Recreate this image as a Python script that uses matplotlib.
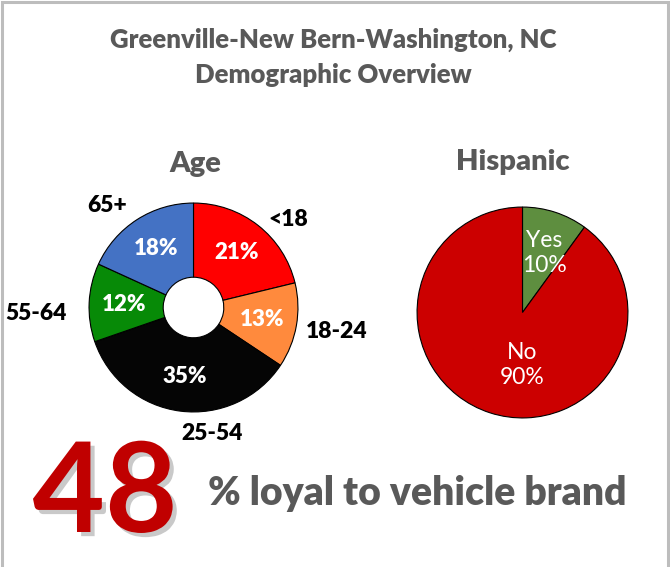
import matplotlib
matplotlib.use("Agg")
import matplotlib.pyplot as plt
import matplotlib.patheffects as pe
from matplotlib.patches import Rectangle
import numpy as np

#-----------Datos--------------------------------
titulo = ["Greenville-New Bern-Washington, NC", "Demographic Overview"]

edad_grupos = ["<18", "18-24", "25-54", "55-64", "65+"]
edad_valores = [21, 13, 35, 12, 18]
edad_colores = ["#FF0000", "#FF8A3D", "#050505", "#078A07", "#4472C4"]

hisp_grupos = ["Yes", "No"]
hisp_valores = [10, 90]
hisp_colores = ["#5E8E3F", "#CC0000"]

leales = 48
leales_texto = "% loyal to vehicle brand"

#-----------Figura--------------------------------
W, H = 670, 567
plt.rcParams['font.family'] = ['Lato', 'DejaVu Sans']
fig = plt.figure(figsize=(W / 100, H / 100), dpi=100)
gris = "#595959"
peso = "heavy"


def fx(x):
    return x / W


def fy(y):
    return 1 - y / H


def eje_circulo(cx, cy, r):
    ax = fig.add_axes([fx(cx - r), fy(cy + r), 2 * r / W, 2 * r / H])
    return ax


# marco gris
fig.patches.append(Rectangle((fx(1.5), fy(575)), (W - 4) / W, 573.5 / H,
                             transform=fig.transFigure, fill=False,
                             edgecolor="#BDBDBD", lw=2.2))

# titulo en dos lineas
for linea, y in zip(titulo, [48, 83]):
    fig.text(fx(333), fy(y), linea, ha="center", va="baseline",
             fontsize=18.5, fontweight=peso, color=gris)

#-----------Edad (dona)--------------------------------
cx, cy, r = 193.5, 307.5, 105.5
ax1 = eje_circulo(cx, cy, r)
cuñas, _ = ax1.pie(edad_valores, colors=edad_colores, startangle=90,
                   counterclock=False, radius=1,
                   wedgeprops=dict(width=0.71, edgecolor="black", linewidth=0.8))
ax1.set_xlim(-1.01, 1.01)
ax1.set_ylim(-1.01, 1.01)

for w, v in zip(cuñas, edad_valores):
    ang = np.deg2rad((w.theta1 + w.theta2) / 2)
    ax1.text(0.67 * np.cos(ang), 0.67 * np.sin(ang), f"{v}%", ha="center",
             va="center", color="white", fontsize=16, fontweight=peso)

pos_etiquetas = {"<18": (288, 220), "18-24": (337, 332), "25-54": (212, 433),
                 "55-64": (36, 313), "65+": (107, 206)}
for g in edad_grupos:
    x, y = pos_etiquetas[g]
    fig.text(fx(x), fy(y), g, ha="center", va="center", fontsize=16.5,
             fontweight=peso, color="black")

fig.text(fx(195), fy(164), "Age", ha="center", va="center", fontsize=21,
         fontweight=peso, color=gris)

#-----------Hispano (torta)--------------------------------
cx, cy, r = 522.5, 312.5, 106.5
ax2 = eje_circulo(cx, cy, r)
ax2.pie(hisp_valores, colors=hisp_colores, startangle=90, counterclock=False,
        radius=1, wedgeprops=dict(edgecolor="black", linewidth=0.8))
ax2.set_xlim(-1.01, 1.01)
ax2.set_ylim(-1.01, 1.01)

pos_hisp = {"Yes": (544, 253), "No": (522, 365)}
for g, v in zip(hisp_grupos, hisp_valores):
    x, y = pos_hisp[g]
    fig.text(fx(x), fy(y), f"{g}\n{v}%", ha="center", va="center",
             fontsize=16.5, color="white", linespacing=1.25)

fig.text(fx(513), fy(162), "Hispanic", ha="center", va="center", fontsize=21,
         fontweight=peso, color=gris)

#-----------Lealtad--------------------------------
fig.text(fx(105), fy(532), f"{leales}", ha="center", va="baseline",
         fontsize=90, fontweight="bold", color="#C00000",
         path_effects=[pe.withSimplePatchShadow(offset=(3, -3),
                                                shadow_rgbFace="#888888",
                                                alpha=0.45)])
fig.text(fx(208), fy(505), leales_texto, ha="left", va="baseline",
         fontsize=28.2, fontweight=peso, color=gris)

fig.savefig("out.png", dpi=100, facecolor="white")
